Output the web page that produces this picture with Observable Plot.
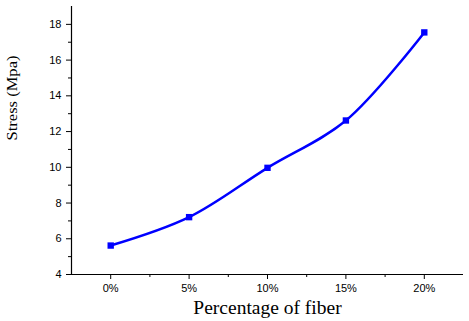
<!DOCTYPE html>
<html>
<head>
<meta charset="utf-8">
<script src="https://cdn.jsdelivr.net/npm/d3@7"></script>
<script src="https://cdn.jsdelivr.net/npm/@observablehq/plot@0.6"></script>
<style>
  html, body { margin: 0; padding: 0; background: #fff; }
  svg { display: block; }
</style>
</head>
<body>
<div id="chart"></div>
<script>
const fiber = [0, 5, 10, 15, 20];
const stress = [5.62, 7.21, 9.97, 12.62, 17.55];
const xTicks = [0, 5, 10, 15, 20];
const xMinor = [2.5, 7.5, 12.5, 17.5];
const yTicks = [4, 6, 8, 10, 12, 14, 16, 18];
const yMinor = [5, 7, 9, 11, 13, 15, 17];
const xLabel = "Percentage of fiber";
const yLabel = "Stress (Mpa)";

const data = fiber.map((f, i) => ({fiber: f, stress: stress[i]}));

const plot = Plot.plot({
  width: 469,
  height: 321,
  marginLeft: 71,
  marginRight: 6,
  marginTop: 6,
  marginBottom: 47,
  style: {background: "#fff", color: "#000", fontFamily: "Liberation Sans, Arial, sans-serif"},
  x: {domain: [-2.5, 22.5]},
  y: {domain: [4, 19]},
  marks: [
    Plot.axisX({ticks: xTicks, tickSize: 5, tickFormat: d => d + "%", tickPadding: 5, label: null, fontSize: 11}),
    Plot.axisX({ticks: xMinor, tickSize: 3, text: null, label: null}),
    Plot.axisY({ticks: yTicks, tickSize: 5, tickPadding: 5, label: null, fontSize: 11}),
    Plot.axisY({ticks: yMinor, tickSize: 3, text: null, label: null}),
    Plot.ruleX([-2.5], {stroke: "#000", strokeWidth: 1.2}),
    Plot.ruleY([4], {stroke: "#000", strokeWidth: 1.2}),
    Plot.line(data, {x: "fiber", y: "stress", curve: "catmull-rom", stroke: "#0000ff", strokeWidth: 2.5}),
    Plot.dot(data, {x: "fiber", y: "stress", symbol: "square", r: 3.6, fill: "#0000ff", stroke: "none"}),
    Plot.text([xLabel], {frameAnchor: "bottom", dy: 39, fontFamily: "Liberation Serif, Times New Roman, serif", fontSize: 19.5, fill: "#000", className: "xlab"}),
    Plot.text([yLabel], {frameAnchor: "left", dx: -59, rotate: -90, fontFamily: "Liberation Serif, Times New Roman, serif", fontSize: 15, fill: "#000", className: "ylab"})
  ]
});
const yl = plot.querySelector(".ylab text");
if (yl) { yl.setAttribute("textLength", "85"); yl.setAttribute("lengthAdjust", "spacingAndGlyphs"); }
document.getElementById("chart").appendChild(plot);
</script>
</body>
</html>
